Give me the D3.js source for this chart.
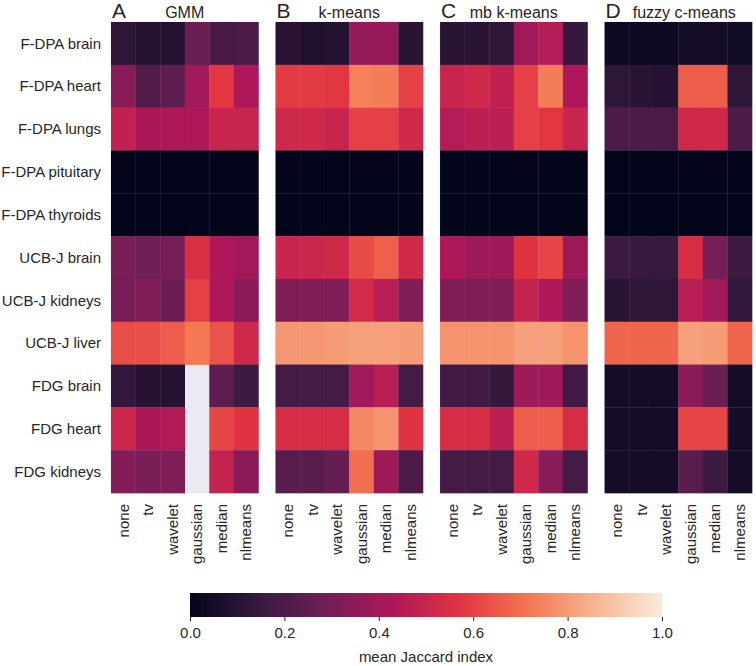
<!DOCTYPE html>
<html>
<head>
<meta charset="utf-8">
<script src="https://cdn.jsdelivr.net/npm/d3@7"></script>
<style>
  body { margin: 0; background: #fff; }
  text { font-family: "Liberation Sans", Arial, sans-serif; fill: #262626; }
</style>
</head>
<body>
<div id="chart"></div>
<script>
// data
var datasets = ["F-DPA brain", "F-DPA heart", "F-DPA lungs", "F-DPA pituitary", "F-DPA thyroids",
  "UCB-J brain", "UCB-J kidneys", "UCB-J liver", "FDG brain", "FDG heart", "FDG kidneys"];
var filters = ["none", "tv", "wavelet", "gaussian", "median", "nlmeans"];
var methods = ["GMM", "k-means", "mb k-means", "fuzzy c-means"];
var letters = ["A", "B", "C", "D"];

var gmm = [
  [0.12, 0.10, 0.09, 0.27, 0.19, 0.20],
  [0.34, 0.21, 0.24, 0.40, 0.58, 0.43],
  [0.48, 0.42, 0.43, 0.43, 0.50, 0.50],
  [0.00, 0.00, 0.00, 0.00, 0.00, 0.00],
  [0.00, 0.00, 0.00, 0.00, 0.00, 0.00],
  [0.31, 0.28, 0.30, 0.55, 0.43, 0.40],
  [0.30, 0.33, 0.27, 0.60, 0.43, 0.35],
  [0.63, 0.63, 0.66, 0.72, 0.64, 0.52],
  [0.13, 0.10, 0.10, null, 0.24, 0.16],
  [0.51, 0.42, 0.44, null, 0.61, 0.57],
  [0.33, 0.31, 0.32, null, 0.49, 0.35]
];
var kmeans = [
  [0.11, 0.08, 0.09, 0.37, 0.37, 0.11],
  [0.59, 0.59, 0.58, 0.74, 0.73, 0.60],
  [0.52, 0.52, 0.50, 0.60, 0.60, 0.52],
  [0.00, 0.00, 0.00, 0.00, 0.00, 0.00],
  [0.00, 0.00, 0.00, 0.00, 0.00, 0.00],
  [0.50, 0.51, 0.52, 0.62, 0.67, 0.52],
  [0.32, 0.32, 0.32, 0.53, 0.46, 0.32],
  [0.79, 0.79, 0.80, 0.81, 0.81, 0.80],
  [0.18, 0.18, 0.18, 0.40, 0.46, 0.18],
  [0.54, 0.54, 0.54, 0.76, 0.78, 0.57],
  [0.23, 0.23, 0.26, 0.70, 0.39, 0.20]
];
var mbKmeans = [
  [0.11, 0.11, 0.12, 0.40, 0.45, 0.14],
  [0.50, 0.52, 0.48, 0.60, 0.73, 0.43],
  [0.45, 0.47, 0.47, 0.60, 0.58, 0.50],
  [0.00, 0.00, 0.00, 0.00, 0.00, 0.00],
  [0.00, 0.00, 0.00, 0.00, 0.00, 0.00],
  [0.43, 0.39, 0.39, 0.57, 0.61, 0.39],
  [0.32, 0.32, 0.32, 0.49, 0.43, 0.32],
  [0.78, 0.78, 0.78, 0.81, 0.81, 0.78],
  [0.17, 0.17, 0.14, 0.39, 0.39, 0.17],
  [0.54, 0.54, 0.47, 0.66, 0.66, 0.54],
  [0.18, 0.18, 0.18, 0.52, 0.34, 0.18]
];
var fuzzy = [
  [0.03, 0.03, 0.03, 0.05, 0.05, 0.04],
  [0.12, 0.11, 0.10, 0.66, 0.66, 0.12],
  [0.20, 0.20, 0.20, 0.52, 0.52, 0.20],
  [0.00, 0.00, 0.00, 0.00, 0.00, 0.00],
  [0.00, 0.00, 0.00, 0.00, 0.00, 0.00],
  [0.16, 0.15, 0.145, 0.54, 0.30, 0.16],
  [0.11, 0.12, 0.12, 0.46, 0.40, 0.13],
  [0.68, 0.68, 0.68, 0.81, 0.80, 0.68],
  [0.05, 0.05, 0.05, 0.35, 0.27, 0.05],
  [0.05, 0.05, 0.05, 0.61, 0.61, 0.05],
  [0.05, 0.05, 0.05, 0.23, 0.16, 0.05]
];
var matrices = [gmm, kmeans, mbKmeans, fuzzy];
var cbarTicks = [0, 0.2, 0.4, 0.6, 0.8, 1.0];

var svgWidth = 756;
var svgHeight = 666;
var fontSize = 15;

// seaborn "rocket" approximated by its 7-step palette plus ends
var rocket = d3.piecewise(d3.interpolateRgb, ["#03051a", "#35193e", "#701f57", "#ad1759",
  "#e13342", "#f37651", "#f6b48f", "#faebdd"]);
var color = d3.scaleSequential(rocket).domain([0, 1]);

var svg = d3.select("#chart")
  .append("svg")
  .attr("width", svgWidth)
  .attr("height", svgHeight);

var panelScale = d3.scaleBand()
  .domain(methods)
  .range([111, 752])
  .paddingInner(0.104)
  .paddingOuter(0);

var yScale = d3.scaleBand()
  .domain(datasets)
  .range([22, 493]);

var xScale = d3.scaleBand()
  .domain(filters)
  .range([0, panelScale.bandwidth()]);

methods.forEach(function(m, k) {
  var g = svg.append("g")
    .attr("transform", `translate(${panelScale(m)}, 0)`);

  g.append("rect")
    .attr("x", -0.5)
    .attr("y", 21.5)
    .attr("width", panelScale.bandwidth() + 1)
    .attr("height", 472)
    .attr("fill", "#eaeaf2");

  var cells = [];
  matrices[k].forEach(function(row, i) {
    row.forEach(function(v, j) {
      if (v !== null) cells.push({ row: datasets[i], col: filters[j], value: v });
    });
  });

  g.selectAll("rect.cell")
    .data(cells)
    .enter()
    .append("rect")
    .attr("class", "cell")
    .attr("x", d => xScale(d.col))
    .attr("y", d => yScale(d.row))
    .attr("width", xScale.bandwidth() + 0.3)
    .attr("height", yScale.bandwidth() + 0.3)
    .attr("fill", d => color(d.value));

  // rotated filter labels
  g.selectAll("text.xlab")
    .data(filters)
    .enter()
    .append("text")
    .attr("class", "xlab")
    .attr("transform", d => `translate(${xScale(d) + xScale.bandwidth() / 2}, 504) rotate(-90)`)
    .attr("text-anchor", "end")
    .attr("dy", "0.35em")
    .attr("font-size", fontSize)
    .text(d => d);

  g.append("text")
    .attr("x", 1)
    .attr("y", 18)
    .attr("font-size", 21)
    .text(letters[k]);

  g.append("text")
    .attr("x", panelScale.bandwidth() / 2 + (k == 3 ? 6 : 0))
    .attr("y", 18)
    .attr("text-anchor", "middle")
    .attr("font-size", 16)
    .text(m);
});

// dataset labels on the left
svg.selectAll("text.ylab")
  .data(datasets)
  .enter()
  .append("text")
  .attr("class", "ylab")
  .attr("x", 101)
  .attr("y", d => yScale(d) + yScale.bandwidth() / 2)
  .attr("dy", "0.35em")
  .attr("text-anchor", "end")
  .attr("font-size", fontSize)
  .text(d => d);

// colorbar
var cbX = d3.scaleLinear().domain([0, 1]).range([190, 662]);
var defs = svg.append("defs");
var grad = defs.append("linearGradient")
  .attr("id", "cbar")
  .attr("x1", "0%").attr("x2", "100%")
  .attr("y1", "0%").attr("y2", "0%");
d3.range(0, 1.0001, 0.02).forEach(function(t) {
  grad.append("stop")
    .attr("offset", (t * 100) + "%")
    .attr("stop-color", color(t));
});

svg.append("rect")
  .attr("x", cbX(0))
  .attr("y", 593)
  .attr("width", cbX(1) - cbX(0))
  .attr("height", 24)
  .attr("fill", "url(#cbar)");

var cbAxis = svg.append("g")
  .attr("transform", "translate(0, 617)")
  .call(d3.axisBottom(cbX).tickValues(cbarTicks).tickFormat(d3.format(".1f")).tickSize(4).tickPadding(6));
cbAxis.select(".domain").remove();
cbAxis.selectAll("line").attr("stroke", "#262626");
cbAxis.selectAll("text")
  .attr("font-size", fontSize)
  .attr("fill", "#262626")
  .style("font-family", "Liberation Sans, Arial, sans-serif");

svg.append("text")
  .attr("x", 426)
  .attr("y", 662)
  .attr("text-anchor", "middle")
  .attr("font-size", fontSize)
  .text("mean Jaccard index");
</script>
</body>
</html>
